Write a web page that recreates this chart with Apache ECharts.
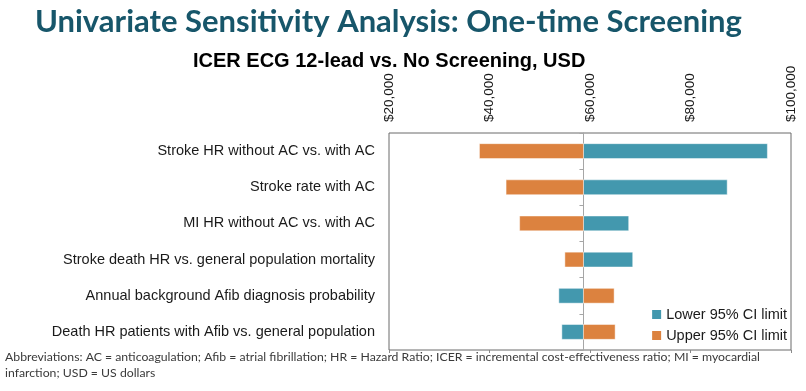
<!DOCTYPE html>
<html>
<head>
<meta charset="utf-8">
<script src="https://cdn.jsdelivr.net/npm/echarts@6/dist/echarts.min.js"></script>
<style>
  html, body { margin: 0; padding: 0; background: #ffffff; }
  #chart { width: 806px; height: 391px; }
</style>
</head>
<body>
<div id="chart"></div>
<script>
// ---- Data ----
const categories = [
  'Stroke HR without AC vs. with AC',
  'Stroke rate with AC',
  'MI HR without AC vs. with AC',
  'Stroke death HR vs. general population mortality',
  'Annual background Afib diagnosis probability',
  'Death HR patients with Afib vs. general population'
];
const lowerCI = [95300, 87300, 67700, 68500, 53800, 54400];   // Lower 95% CI limit
const upperCI = [38000, 43300, 46000, 55000, 64800, 65000];   // Upper 95% CI limit
const baseICER = 58700;
const axisMin = 20000;
const axisMax = 100000;
const axisStep = 20000;
const seriesNames = ['Lower 95% CI limit', 'Upper 95% CI limit'];

const titleText = 'Univariate Sensitivity Analysis: One-time Screening';
const subtitleText = 'ICER ECG 12-lead vs. No Screening, USD';
const footLine1 = 'Abbreviations: AC = anticoagulation; Afib = atrial fibrillation; HR = Hazard Ratio; ICER = incremental cost-effectiveness ratio; MI = myocardial';
const footLine2 = 'infarction; USD = US dollars';

// ---- Layout ----
const gridLeft = 389, gridRight = 15, gridTop = 133, gridBottom = 41;
const gridWidth = 806 - gridLeft - gridRight;
const centerOffset = gridWidth * (baseICER - axisMin) / (axisMax - axisMin);

const colorLower = '#4398AE';
const colorUpper = '#DC823F';

function makeRender(color) {
  return function (params, api) {
    const idx = api.value(1);
    const v = api.value(0);
    const p0 = api.coord([baseICER, idx]);
    const p1 = api.coord([v, idx]);
    const h = api.size([0, 1])[1] * 0.41;
    return {
      type: 'rect',
      shape: {
        x: Math.min(p0[0], p1[0]),
        y: p0[1] - h / 2,
        width: Math.abs(p1[0] - p0[0]),
        height: h
      },
      style: { fill: color, stroke: 'rgba(255,255,255,0.45)', lineWidth: 1 }
    };
  };
}

const chart = echarts.init(document.getElementById('chart'), null, { renderer: 'canvas' });

const option = {
  backgroundColor: '#ffffff',
  animation: false,
  grid: {
    show: true, borderColor: '#6b6b6b', borderWidth: 1,
    left: gridLeft, right: gridRight, top: gridTop, bottom: gridBottom
  },
  legend: {
    orient: 'vertical', right: 14, bottom: 43,
    itemWidth: 9, itemHeight: 9, itemGap: 6, icon: 'rect',
    textStyle: { fontFamily: 'Liberation Sans, Arial, sans-serif', fontSize: 14.5, color: '#1a1a1a' },
    data: seriesNames
  },
  xAxis: [
    {
      type: 'value', position: 'top', min: axisMin, max: axisMax, interval: axisStep,
      axisLine: { show: false }, axisTick: { show: false }, splitLine: { show: false },
      axisLabel: {
        rotate: -90, margin: 11, fontSize: 13.5, color: '#1a1a1a',
        fontFamily: 'Liberation Sans, Arial, sans-serif',
        formatter: function (v) { return '$' + v.toLocaleString('en-US'); }
      }
    },
    {
      type: 'value', position: 'bottom', min: axisMin, max: axisMax, interval: axisStep,
      axisLine: { show: false }, splitLine: { show: false },
      axisTick: { show: true, length: 3, lineStyle: { color: '#8a8a8a' } },
      axisLabel: { show: false }
    }
  ],
  yAxis: [
    {
      type: 'category', data: categories, inverse: true,
      axisLine: { show: false }, axisTick: { show: false },
      axisLabel: {
        margin: 14, fontSize: 14.5, color: '#1a1a1a',
        fontFamily: 'Liberation Sans, Arial, sans-serif'
      }
    },
    {
      type: 'category', data: categories, inverse: true, position: 'left',
      offset: -centerOffset,
      axisLine: { show: true, lineStyle: { color: '#a6a6a6', width: 1 } },
      axisTick: { show: true, length: 4, lineStyle: { color: '#a6a6a6' } },
      axisLabel: { show: false }
    }
  ],
  series: [
    {
      name: seriesNames[0], type: 'custom', xAxisIndex: 0, yAxisIndex: 0,
      itemStyle: { color: colorLower },
      encode: { x: 0, y: 1 },
      renderItem: makeRender(colorLower),
      data: lowerCI.map(function (v, i) { return [v, i]; })
    },
    {
      name: seriesNames[1], type: 'custom', xAxisIndex: 0, yAxisIndex: 0,
      itemStyle: { color: colorUpper },
      encode: { x: 0, y: 1 },
      renderItem: makeRender(colorUpper),
      data: upperCI.map(function (v, i) { return [v, i]; })
    }
  ],
  graphic: [
    {
      type: 'text', left: 35, top: 6, z: 10,
      style: {
        text: titleText, fill: '#17566A',
        font: 'bold 31px Lato, "Open Sans", sans-serif'
      }
    },
    {
      type: 'text', left: 193, top: 51, z: 10,
      style: {
        text: subtitleText, fill: '#000000',
        font: 'bold 20px "Liberation Sans", Arial, sans-serif'
      }
    },
    {
      type: 'text', left: 5, top: 351, z: 10,
      style: {
        text: footLine1, fill: '#3a3a3a',
        font: '12.25px Lato, "Open Sans", sans-serif'
      }
    },
    {
      type: 'text', left: 5, top: 367, z: 10,
      style: {
        text: footLine2, fill: '#3a3a3a',
        font: '12.25px Lato, "Open Sans", sans-serif'
      }
    }
  ]
};

chart.setOption(option);
</script>
</body>
</html>
